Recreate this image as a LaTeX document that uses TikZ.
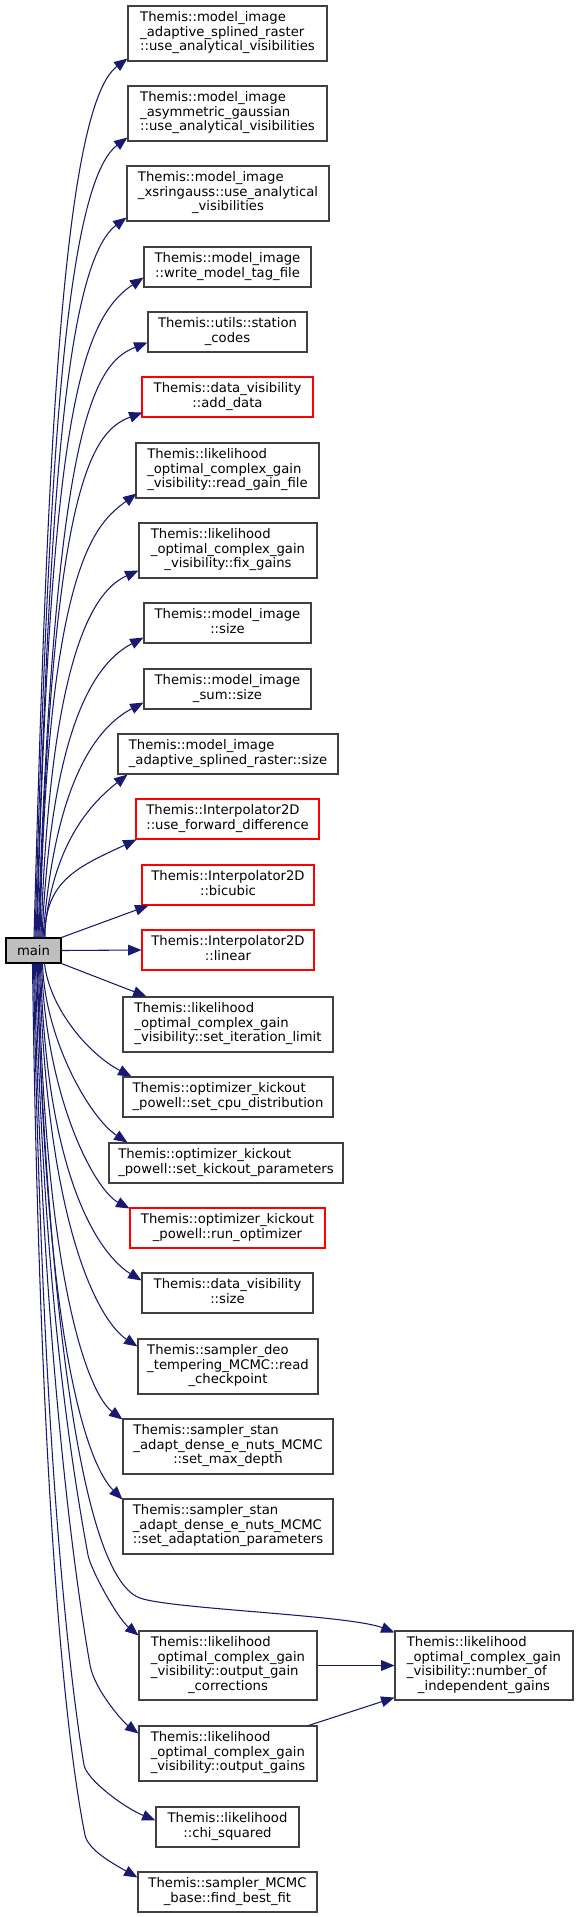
\documentclass[tikz,border=0pt]{standalone}
\usepackage{fontspec}
\setmainfont{DejaVu Sans}
\usetikzlibrary{arrows.meta,calc}
\definecolor{edgeblue}{HTML}{191970}
\definecolor{nodegray}{HTML}{404040}
\definecolor{mainfill}{HTML}{BFBFBF}
\newcommand\lbl[2]{\begin{tabular}{@{}l@{}}#1\\\multicolumn{1}{@{}c@{}}{#2}\end{tabular}}
\tikzset{
  fn/.style={draw=nodegray, fill=white, line width=0.8pt, inner sep=0pt,
    font=\fontsize{9.9pt}{10.9pt}\selectfont, text=black},
  redfn/.style={fn, draw=red},
  sz/.style 2 args={minimum width=#1*0.75pt, minimum height=#2*0.75pt},
  call/.style={draw=edgeblue, line width=0.8pt, -{Triangle[length=10pt,width=8pt,fill=edgeblue]}},
}
\begin{document}
\begin{tikzpicture}[x=0.75pt,y=-0.75pt]
\useasboundingbox (0,0) rectangle (579,1917);
% nodes
\node[fn, sz={199}{55}] (b1) at (227.5,33.5) {\lbl{Themis::model\_image\\\_adaptive\_splined\_raster}{::use\_analytical\_visibilities}};
\node[fn, sz={199}{55}] (b2) at (227.5,113.5) {\lbl{Themis::model\_image\\\_asymmetric\_gaussian}{::use\_analytical\_visibilities}};
\node[fn, sz={202}{55}] (b3) at (228,193.5) {\lbl{Themis::model\_image\\\_xsringauss::use\_analytical}{\_visibilities}};
\node[fn, sz={167}{40}] (b4) at (227.5,267) {\lbl{Themis::model\_image}{::write\_model\_tag\_file}};
\node[fn, sz={159}{40}] (b5) at (227.5,332) {\lbl{Themis::utils::station}{\_codes}};
\node[redfn, sz={171}{40}] (b6) at (227.5,397) {\lbl{Themis::data\_visibility}{::add\_data}};
\node[fn, sz={183}{55}] (b7) at (227.5,470.5) {\lbl{Themis::likelihood\\\_optimal\_complex\_gain}{\_visibility::read\_gain\_file}};
\node[fn, sz={178}{55}] (b8) at (228,550.5) {\lbl{Themis::likelihood\\\_optimal\_complex\_gain}{\_visibility::fix\_gains}};
\node[fn, sz={167}{40}] (b9) at (227.5,623) {\lbl{Themis::model\_image}{::size}};
\node[fn, sz={167}{40}] (b10) at (227.5,689) {\lbl{Themis::model\_image}{\_sum::size}};
\node[fn, sz={220}{40}] (b11) at (228,754) {\lbl{Themis::model\_image}{\_adaptive\_splined\_raster::size}};
\node[redfn, sz={183}{40}] (b12) at (227.5,819) {\lbl{Themis::Interpolator2D}{::use\_forward\_difference}};
\node[redfn, sz={172}{40}] (b13) at (228,885) {\lbl{Themis::Interpolator2D}{::bicubic}};
\node[fn, draw=black, fill=mainfill, sz={55}{25}] (main) at (33.5,950.5) {main};
\node[redfn, sz={172}{40}] (b14) at (228,950) {\lbl{Themis::Interpolator2D}{::linear}};
\node[fn, sz={210}{55}] (b15) at (228,1024.5) {\lbl{Themis::likelihood\\\_optimal\_complex\_gain}{\_visibility::set\_iteration\_limit}};
\node[fn, sz={210}{40}] (b16) at (228,1097) {\lbl{Themis::optimizer\_kickout}{\_powell::set\_cpu\_distribution}};
\node[fn, sz={234}{40}] (b17) at (226,1163) {\lbl{Themis::optimizer\_kickout}{\_powell::set\_kickout\_parameters}};
\node[redfn, sz={195}{40}] (b18) at (227.5,1228) {\lbl{Themis::optimizer\_kickout}{\_powell::run\_optimizer}};
\node[fn, sz={171}{40}] (b19) at (227.5,1293) {\lbl{Themis::data\_visibility}{::size}};
\node[fn, sz={180}{55}] (b20) at (228,1366.5) {\lbl{Themis::sampler\_deo\\\_tempering\_MCMC::read}{\_checkpoint}};
\node[fn, sz={210}{55}] (b21) at (228,1446.5) {\lbl{Themis::sampler\_stan\\\_adapt\_dense\_e\_nuts\_MCMC}{::set\_max\_depth}};
\node[fn, sz={210}{55}] (b22) at (228,1526.5) {\lbl{Themis::sampler\_stan\\\_adapt\_dense\_e\_nuts\_MCMC}{::set\_adaptation\_parameters}};
\node[fn, sz={178}{69}] (b23) at (228,1665.5) {\lbl{Themis::likelihood\\\_optimal\_complex\_gain\\\_visibility::output\_gain}{\_corrections}};
\node[fn, sz={178}{55}] (b24) at (228,1753.5) {\lbl{Themis::likelihood\\\_optimal\_complex\_gain}{\_visibility::output\_gains}};
\node[fn, sz={143}{40}] (b25) at (227.5,1827) {\lbl{Themis::likelihood}{::chi\_squared}};
\node[fn, sz={179}{40}] (b26) at (227.5,1892) {\lbl{Themis::sampler\_MCMC}{\_base::find\_best\_fit}};
\node[fn, sz={178}{69}] (b27) at (484,1665.5) {\lbl{Themis::likelihood\\\_optimal\_complex\_gain\\\_visibility::number\_of}{\_independent\_gains}};
% upward edges
\draw[call] ($(main.north)+(0.5,0)$) .. controls (46,500) and (60,109) .. ($(b1.south west)+(0,-3)$);
\draw[call] ($(main.north)+(1.5,0)$) .. controls (47,537) and (60,188) .. ($(b2.south west)+(0,-4)$);
\draw[call] ($(main.north)+(2.5,0)$) .. controls (48,577) and (59,268) .. ($(b3.south west)+(0,-4)$);
\draw[call] ($(main.north)+(3.5,0)$) .. controls (50,420) and (80,320) .. ($(b4.south west)+(0,-10)$);
\draw[call] ($(main.north)+(4.5,0)$) .. controls (55,430) and (92,364) .. ($(b5.south west)+(0,-10)$);
\draw[call] ($(main.north)+(5.5,0)$) .. controls (52,490) and (90,432) .. ($(b6.south west)+(1,-5)$);
\draw[call] ($(main.north)+(6.5,0)$) .. controls (47,560) and (97,523) .. ($(b7.south west)+(1,-5)$);
\draw[call] ($(main.north)+(7.5,0)$) .. controls (50,650) and (95,590) .. ($(b8.south west)+(0,-8)$);
\draw[call] ($(main.north)+(8.5,0)$) .. controls (52,720) and (97,662) .. ($(b9.south west)+(0,-6)$);
\draw[call] ($(main.north)+(9.5,0)$) .. controls (55,780) and (97,727) .. ($(b10.south west)+(0,-7)$);
\draw[call] ($(main.north)+(10.5,0)$) .. controls (52,845) and (90,804) .. ($(b11.south west)+(10,0)$);
\draw[call] ($(main.north)+(11.5,0)$) .. controls (44,880) and (80,866) .. ($(b12.south west)+(1,0)$);
\draw[call] (main.north east) -- ($(b13.south west)+(7,0)$);
\draw[call] (main.east) -- (b14.west);
\draw[call] (main.south east) -- ($(b15.north west)+(24,0)$);
% downward edges
\draw[call] ($(main.south)+(11,0)$) .. controls (50,1010) and (90,1055) .. ($(b16.north west)+(9,0)$);
\draw[call] ($(main.south)+(9,0)$) .. controls (45,1040) and (90,1118) .. ($(b17.north west)+(19,0)$);
\draw[call] ($(main.south)+(8,0)$) .. controls (46,1100) and (95,1190) .. ($(b18.north west)+(0,1)$);
\draw[call] ($(main.south)+(7,0)$) .. controls (46,1180) and (100,1255) .. ($(b19.north west)+(0,8)$);
\draw[call] ($(main.south)+(6,0)$) .. controls (46,1230) and (100,1322) .. ($(b20.north west)+(0,8)$);
\draw[call] ($(main.south)+(5,0)$) .. controls (45,1290) and (90,1395) .. ($(b21.north west)+(0,1)$);
\draw[call] ($(main.south)+(4,0)$) .. controls (45,1350) and (88,1465) .. ($(b22.north west)+(0,1)$);
\coordinate (nk) at (140,1598);
\draw[call] ($(main.south)+(3,0)$) .. controls (46,1250) and (75,1575) .. (nk) .. controls (170,1609) and (350,1615) .. ($(b27.north west)+(0,2)$);
\coordinate (k23) at (88,1555);
\draw[call] ($(main.south)+(2,0)$) .. controls (42,1250) and (65,1430) .. (k23) .. controls (90.7,1569.7) and (117.4,1618) .. ($(b23.north west)+(0,5)$);
\coordinate (k24) at (90,1665);
\draw[call] ($(main.south)+(1,0)$) .. controls (40,1300) and (70,1550) .. (k24) .. controls (94.3,1689.6) and (123,1722) .. ($(b24.north west)+(0,8)$);
\coordinate (k25) at (84,1765);
\draw[call] ($(main.south)+(0,0)$) .. controls (41,1400) and (65,1650) .. (k25) .. controls (86.8,1779.7) and (123.8,1807.4) .. ($(b25.north west)+(0,14)$);
\coordinate (k26) at (85,1835);
\draw[call] ($(main.south)+(-1,0)$) .. controls (39,1450) and (62,1720) .. (k26) .. controls (88,1849.7) and (112,1863) .. ($(b26.north west)+(0,6)$);
% secondary edges
\draw[call] (b23.east) -- (b27.west);
\draw[call] ($(b24.north east)+(-9,0)$) -- ($(b27.south west)+(0,-3)$);
\end{tikzpicture}
\end{document}
